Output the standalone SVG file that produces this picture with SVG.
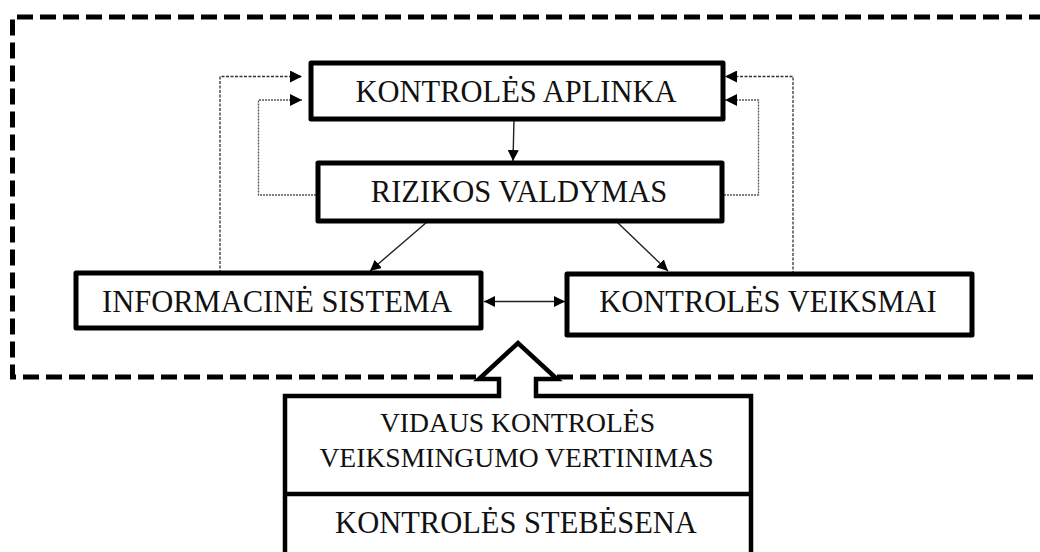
<svg xmlns="http://www.w3.org/2000/svg" width="1040" height="552" viewBox="0 0 1040 552">
  <style>
    .box { fill: #fff; stroke: #000; stroke-width: 5; stroke-linejoin: round; }
    text { font-family: "Liberation Serif", "Times New Roman", serif; fill: #111; text-anchor: middle; }
    .lbl { font-size: 30.5px; }
    .lbl2 { font-size: 27.6px; }
    .frame { fill: none; stroke: #000; stroke-width: 5; stroke-dasharray: 16 7; }
    .solid { fill: none; stroke: #222; stroke-width: 1.4; }
    .dotted { fill: none; stroke: #333; stroke-width: 1.3; stroke-dasharray: 3 1.5; }
    .dotted2 { fill: none; stroke: #555; stroke-width: 1.3; stroke-dasharray: 2 1; }
  </style>
  <defs>
    <marker id="ah" viewBox="0 0 10 10" refX="10" refY="5" markerWidth="12" markerHeight="12" markerUnits="userSpaceOnUse" orient="auto-start-reverse">
      <path d="M0,0 L10,5 L0,10 z" fill="#000"/>
    </marker>
    <marker id="ahs" viewBox="0 0 10 10" refX="10" refY="5" markerWidth="11" markerHeight="11" markerUnits="userSpaceOnUse" orient="auto-start-reverse">
      <path d="M0,0 L10,5 L0,10 z" fill="#000"/>
    </marker>
  </defs>
  <rect width="1040" height="552" fill="#fff"/>

  <!-- dashed boundary of the control system -->
  <g id="boundary">
    <path class="frame" d="M1045 17 H12.5 V377 H479"/>
    <path class="frame" d="M557 377 H1045"/>
  </g>

  <g id="connectors">
    <path class="solid" d="M514 119 L513 161" marker-end="url(#ahs)"/>
    <path class="solid" d="M427 222 L370 271" marker-end="url(#ahs)"/>
    <path class="solid" d="M617 222 L668 271" marker-end="url(#ahs)"/>
    <path class="solid" d="M484 301.5 L565 301.5" marker-start="url(#ahs)" marker-end="url(#ahs)"/>
    <!-- feedback loops -->
    <path class="dotted" d="M220 273 V76.5 H302" marker-end="url(#ah)"/>
    <path class="dotted2" d="M316 195 H258.5 V100 H302" marker-end="url(#ah)"/>
    <path class="dotted" d="M793 274 V76.5 H725" marker-end="url(#ah)"/>
    <path class="dotted2" d="M724 195 H758.5 V100 H725" marker-end="url(#ah)"/>
  </g>

  <g id="kontroles-aplinka">
    <rect class="box" x="311" y="63" width="412" height="56"/>
    <text class="lbl" x="516" y="102">KONTROLĖS APLINKA</text>
  </g>

  <g id="rizikos-valdymas">
    <rect class="box" x="318" y="163" width="404" height="58"/>
    <text class="lbl" x="519" y="201.5">RIZIKOS VALDYMAS</text>
  </g>

  <g id="informacine-sistema">
    <rect class="box" x="76" y="273" width="405" height="55"/>
    <text class="lbl" x="277" y="312">INFORMACINĖ SISTEMA</text>
  </g>

  <g id="kontroles-veiksmai">
    <rect class="box" x="567" y="274" width="405" height="61"/>
    <text class="lbl" x="768" y="312">KONTROLĖS VEIKSMAI</text>
  </g>

  <g id="stebesena">
    <path d="M285 560 V396 H499 V379 H479 L518 343 L557 379 H536 V396 H751 V560" fill="#fff" stroke="#000" stroke-width="4.5" stroke-linejoin="miter"/>
    <line x1="285" y1="494" x2="751" y2="494" stroke="#000" stroke-width="4.5"/>
    <text class="lbl2" x="517.5" y="431.5">VIDAUS KONTROLĖS</text>
    <text class="lbl2" x="516.5" y="467">VEIKSMINGUMO VERTINIMAS</text>
    <text class="lbl" x="516" y="533">KONTROLĖS STEBĖSENA</text>
  </g>
</svg>
